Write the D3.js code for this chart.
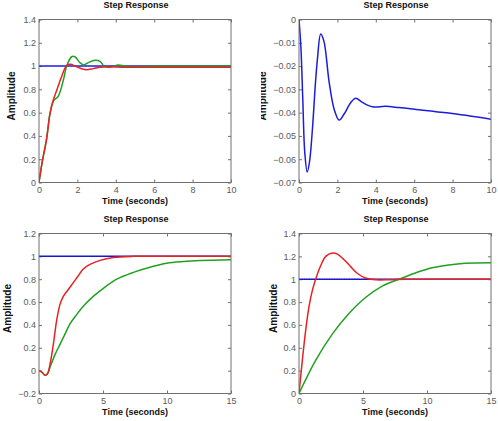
<!DOCTYPE html>
<html>
<head>
<meta charset="utf-8">
<script src="https://cdn.jsdelivr.net/npm/d3@7"></script>
<style>
  body { margin: 0; background: #fff; }
  svg { display: block; }
  .tick text { font-family: "Liberation Sans", Arial, sans-serif; font-size: 9px; fill: #5a5a5a; }
  .tick line { stroke: #707070; }
  .ttl, .lbl { font-family: "Liberation Sans", Arial, sans-serif; font-weight: bold; fill: #111; }
</style>
</head>
<body>
<svg width="498" height="421"></svg>
<script>
// panel 1: top-left
var t1g = [0, 0.15, 0.4, 0.57, 0.75, 1.0, 1.27, 1.44, 1.7, 1.87, 2.13, 2.34, 2.57, 2.92, 3.18, 3.39, 3.7, 4.13, 4.48, 5, 6, 10],
    y1g = [0, 0.16, 0.38, 0.59, 0.70, 0.74, 0.88, 1.0, 1.08, 1.08, 1.03, 1.01, 1.03, 1.05, 1.04, 1.0, 0.99, 1.01, 1.0, 0.995, 1.0, 1.0],
    t1r = [0, 0.15, 0.4, 0.57, 0.75, 0.92, 1.18, 1.44, 1.65, 1.88, 2.22, 2.48, 2.83, 3.18, 3.6, 4.5, 6, 10],
    y1r = [0, 0.16, 0.38, 0.59, 0.71, 0.79, 0.91, 1.005, 1.015, 1.0, 0.977, 0.968, 0.978, 0.99, 0.995, 0.99, 0.99, 0.99];

// panel 2: top-right
var t2b = [0, 0.1, 0.2, 0.3, 0.43, 0.55, 0.7, 0.85, 0.96, 1.13, 1.3, 1.57, 1.83, 2.09, 2.35, 2.7, 2.96, 3.3, 3.83, 4.5, 5.2, 6.1, 7.8, 10],
    y2b = [0, -0.012, -0.035, -0.057, -0.0655, -0.061, -0.047, -0.028, -0.017, -0.0062, -0.0094, -0.0269, -0.0385, -0.0432, -0.0406, -0.0356, -0.0338, -0.0356, -0.0375, -0.0373, -0.0378, -0.0386, -0.0402, -0.0428];

// panel 3: bottom-left
var t3r = [0, 0.2, 0.47, 0.65, 0.86, 1.12, 1.38, 1.64, 1.9, 2.29, 2.68, 3.07, 3.46, 3.98, 4.77, 5.8, 7.37, 10, 15],
    y3r = [0, -0.01, -0.04, -0.03, 0.055, 0.23, 0.44, 0.58, 0.65, 0.71, 0.77, 0.83, 0.89, 0.93, 0.965, 0.99, 1.0, 1.0, 1.0],
    t3g = [0, 0.2, 0.47, 0.65, 0.86, 1.25, 1.64, 2.03, 2.42, 2.94, 3.6, 4.24, 5.03, 6.07, 7.37, 8.67, 9.97, 11.3, 12.6, 15],
    y3g = [0, -0.01, -0.04, -0.03, 0.03, 0.14, 0.23, 0.32, 0.41, 0.49, 0.58, 0.65, 0.72, 0.8, 0.86, 0.905, 0.94, 0.955, 0.963, 0.97];

// panel 4: bottom-right
var t4r = [0, 0.26, 0.52, 0.78, 1.04, 1.3, 1.7, 2.09, 2.6, 3.0, 3.52, 4.04, 4.57, 5.2, 6.0, 7.04, 8.35, 10, 15],
    y4r = [0, 0.29, 0.55, 0.76, 0.9, 1.0, 1.12, 1.2, 1.23, 1.22, 1.17, 1.11, 1.05, 1.01, 0.995, 0.995, 1.0, 1.0, 1.0],
    t4g = [0, 1.3, 2.6, 3.9, 5.2, 6.5, 7.8, 9.1, 10.4, 11.7, 13, 15],
    y4g = [0, 0.29, 0.52, 0.70, 0.84, 0.94, 1.0, 1.055, 1.1, 1.125, 1.14, 1.145];

// reference step (blue)
var tRef10 = [0, 10], tRef15 = [0, 15], yRef = [1, 1];

// ticks
var xt10 = [0, 2, 4, 6, 8, 10],
    xt15 = [0, 5, 10, 15],
    yt1 = [0, 0.2, 0.4, 0.6, 0.8, 1, 1.2, 1.4],
    yt2 = [0, -0.01, -0.02, -0.03, -0.04, -0.05, -0.06, -0.07],
    yt3 = [-0.2, 0, 0.2, 0.4, 0.6, 0.8, 1, 1.2];

var blue = "#1c1cdc", green = "#1fa21f", red = "#e62222";

function zip(ts, ys) { return ts.map(function(t, i) { return [t, ys[i]]; }); }

var panels = [
  {x0: 39, x1: 231, y0: 19.5, y1: 182.5, xd: [0, 10], yd: [0, 1.4], xt: xt10, yt: yt1, lx: 15,
   lines: [{d: zip(tRef10, yRef), c: blue}, {d: zip(t1g, y1g), c: green}, {d: zip(t1r, y1r), c: red}]},
  {x0: 299, x1: 491, y0: 19.5, y1: 182.5, xd: [0, 10], yd: [-0.07, 0], xt: xt10, yt: yt2, lx: 266, clip: 261,
   lines: [{d: zip(t2b, y2b), c: blue}]},
  {x0: 39, x1: 231, y0: 233.5, y1: 393.5, xd: [0, 15], yd: [-0.2, 1.2], xt: xt15, yt: yt3, lx: 11,
   lines: [{d: zip(tRef15, yRef), c: blue, dot: true}, {d: zip(t3g, y3g), c: green}, {d: zip(t3r, y3r), c: red}]},
  {x0: 299, x1: 491, y0: 233.5, y1: 393.5, xd: [0, 15], yd: [0, 1.4], xt: xt15, yt: yt1, lx: 276.5,
   lines: [{d: zip(tRef15, yRef), c: blue, dot: true}, {d: zip(t4g, y4g), c: green}, {d: zip(t4r, y4r), c: red}]}
];

var svg = d3.select("svg");
var fmt = d3.format("~g");

panels.forEach(function(p, i) {
  var x = d3.scaleLinear().domain(p.xd).range([p.x0, p.x1]),
      y = d3.scaleLinear().domain(p.yd).range([p.y1, p.y0]);
  var g = svg.append("g");

  g.append("clipPath").attr("id", "c" + i)
    .append("rect").attr("x", p.x0).attr("y", p.y0)
    .attr("width", p.x1 - p.x0).attr("height", p.y1 - p.y0);

  // axes, ticks inward on all four sides
  g.append("g").attr("transform", "translate(0," + p.y1 + ")")
    .call(d3.axisBottom(x).tickValues(p.xt).tickFormat(fmt).tickSizeInner(-3).tickSizeOuter(0).tickPadding(4.5))
    .call(function(a) { a.select(".domain").remove(); });
  g.append("g").attr("transform", "translate(0," + p.y0 + ")")
    .call(d3.axisTop(x).tickValues(p.xt).tickFormat("").tickSizeInner(-3).tickSizeOuter(0))
    .call(function(a) { a.select(".domain").remove(); });
  g.append("g").attr("transform", "translate(" + p.x0 + ",0)")
    .call(d3.axisLeft(y).tickValues(p.yt).tickFormat(fmt).tickSizeInner(-3).tickSizeOuter(0).tickPadding(3))
    .call(function(a) { a.select(".domain").remove(); });
  g.append("g").attr("transform", "translate(" + p.x1 + ",0)")
    .call(d3.axisRight(y).tickValues(p.yt).tickFormat("").tickSizeInner(-3).tickSizeOuter(0))
    .call(function(a) { a.select(".domain").remove(); });

  var line = d3.line()
    .x(function(d) { return x(d[0]); })
    .y(function(d) { return y(d[1]); })
    .curve(d3.curveCatmullRom.alpha(0.5));

  var lg = g.append("g").attr("clip-path", "url(#c" + i + ")");
  p.lines.forEach(function(l) {
    lg.append("path").attr("d", line(l.d))
      .attr("fill", "none").attr("stroke", l.c).attr("stroke-width", 1.5);
    if (l.dot) {
      lg.append("path").attr("d", line(l.d))
        .attr("fill", "none").attr("stroke", "#000088").attr("stroke-width", 1)
        .attr("stroke-dasharray", "1,1.5").attr("opacity", 0.5);
    }
  });

  // frame
  g.append("rect").attr("x", p.x0).attr("y", p.y0)
    .attr("width", p.x1 - p.x0).attr("height", p.y1 - p.y0)
    .attr("fill", "none").attr("stroke", "#707070").attr("stroke-width", 1);

  var cx = (p.x0 + p.x1) / 2, cy = (p.y0 + p.y1) / 2 - 5;
  g.append("text").attr("class", "ttl").attr("x", cx + 1).attr("y", p.y0 - 11.5)
    .attr("text-anchor", "middle").attr("font-size", 9).text("Step Response");
  g.append("text").attr("class", "lbl").attr("x", cx).attr("y", p.y1 + 21)
    .attr("text-anchor", "middle").attr("font-size", 9).text("Time (seconds)");

  var yl = g.append("g");
  if (p.clip) {
    g.append("clipPath").attr("id", "yc" + i)
      .append("rect").attr("x", p.clip).attr("y", p.y0).attr("width", p.x0 - p.clip).attr("height", p.y1 - p.y0);
    yl.attr("clip-path", "url(#yc" + i + ")");
  }
  yl.append("text").attr("class", "lbl")
    .attr("transform", "translate(" + p.lx + "," + cy + ") rotate(-90)")
    .attr("text-anchor", "middle").attr("font-size", 10).text("Amplitude");
});
</script>
</body>
</html>
